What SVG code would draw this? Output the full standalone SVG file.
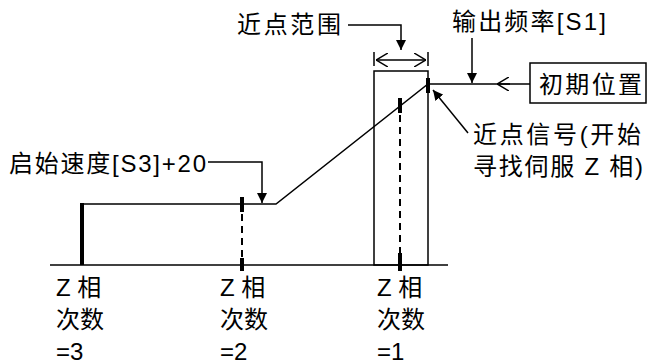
<svg xmlns="http://www.w3.org/2000/svg" width="651" height="364" viewBox="0 0 651 364">
<style>
  text { font-family: "Liberation Sans", "Noto Sans CJK SC", sans-serif; font-size: 24px; fill: #000; }
  .ln { fill: none; stroke: #000; stroke-width: 1.5; }
  .thick { fill: none; stroke: #000; stroke-width: 4; }
  .dash { fill: none; stroke: #000; stroke-width: 2; stroke-dasharray: 7 5; }
</style>
<defs>
  <marker id="fa" viewBox="0 0 10 10" refX="10" refY="5" markerWidth="10" markerHeight="10" markerUnits="userSpaceOnUse" orient="auto">
    <path d="M0,0 L10,5 L0,10 Z" fill="#000"/>
  </marker>
  <marker id="oa" viewBox="0 0 12 14" refX="12" refY="7" markerWidth="12" markerHeight="14" markerUnits="userSpaceOnUse" orient="auto-start-reverse">
    <path d="M0,0 L12,7 L0,14" fill="none" stroke="#000" stroke-width="1.5"/>
  </marker>
</defs>
<rect width="651" height="364" fill="#fff"/>

<g id="connectors">
  <line class="ln" x1="50" y1="265" x2="448" y2="265"/>
  <line class="thick" x1="82" y1="203" x2="82" y2="265"/>
  <polyline class="ln" points="82,204 276,204 428,84 530,84"/>
  <line class="thick" x1="242" y1="197" x2="242" y2="212"/>
  <line class="dash" x1="242" y1="214" x2="242" y2="258"/>
  <line class="thick" x1="242" y1="258" x2="242" y2="271"/>
  <line class="thick" x1="400" y1="98" x2="400" y2="113"/>
  <line class="dash" x1="400" y1="115" x2="400" y2="253"/>
  <line class="thick" x1="400" y1="253" x2="400" y2="271"/>
  <line class="thick" x1="428" y1="78" x2="428" y2="93"/>
  <line class="ln" x1="374" y1="52" x2="374" y2="66"/>
  <line class="ln" x1="428" y1="52" x2="428" y2="66"/>
  <line class="ln" x1="376" y1="60" x2="426" y2="60" marker-start="url(#oa)" marker-end="url(#oa)"/>
  <polyline class="ln" points="348,25 401,25 401,50" marker-end="url(#fa)"/>
  <line class="ln" x1="472" y1="38" x2="472" y2="83" marker-end="url(#fa)"/>
  <line class="ln" x1="510" y1="84" x2="497" y2="84" marker-end="url(#oa)"/>
  <line class="ln" x1="468" y1="133" x2="433" y2="90" marker-end="url(#fa)"/>
  <polyline class="ln" points="208,162 262,162 262,203" marker-end="url(#fa)"/>
</g>

<g id="near-range-box">
  <rect class="ln" x="374" y="71" width="54" height="194"/>
</g>

<g id="label-near-range">
  <text x="237" y="33" textLength="104" lengthAdjust="spacing">近点范围</text>
</g>

<g id="label-output-freq">
  <text x="452" y="30" textLength="154" lengthAdjust="spacing">输出频率[S1]</text>
</g>

<g id="node-initial-position">
  <rect class="ln" x="530" y="63" width="116" height="40"/>
  <text x="539" y="93" textLength="103" lengthAdjust="spacing">初期位置</text>
</g>

<g id="label-near-signal">
  <text x="473" y="143" textLength="168" lengthAdjust="spacing">近点信号(开始</text>
  <text x="473" y="175" textLength="170" lengthAdjust="spacing">寻找伺服 Z 相)</text>
</g>

<g id="label-start-speed">
  <text x="9" y="172" textLength="197" lengthAdjust="spacing">启始速度[S3]+20</text>
</g>

<g id="label-z3">
  <text x="56" y="296">Z 相</text>
  <text x="56" y="328">次数</text>
  <text x="56" y="360">=3</text>
</g>
<g id="label-z2">
  <text x="220" y="296">Z 相</text>
  <text x="220" y="328">次数</text>
  <text x="220" y="360">=2</text>
</g>
<g id="label-z1">
  <text x="377" y="296">Z 相</text>
  <text x="377" y="328">次数</text>
  <text x="377" y="360">=1</text>
</g>
</svg>
